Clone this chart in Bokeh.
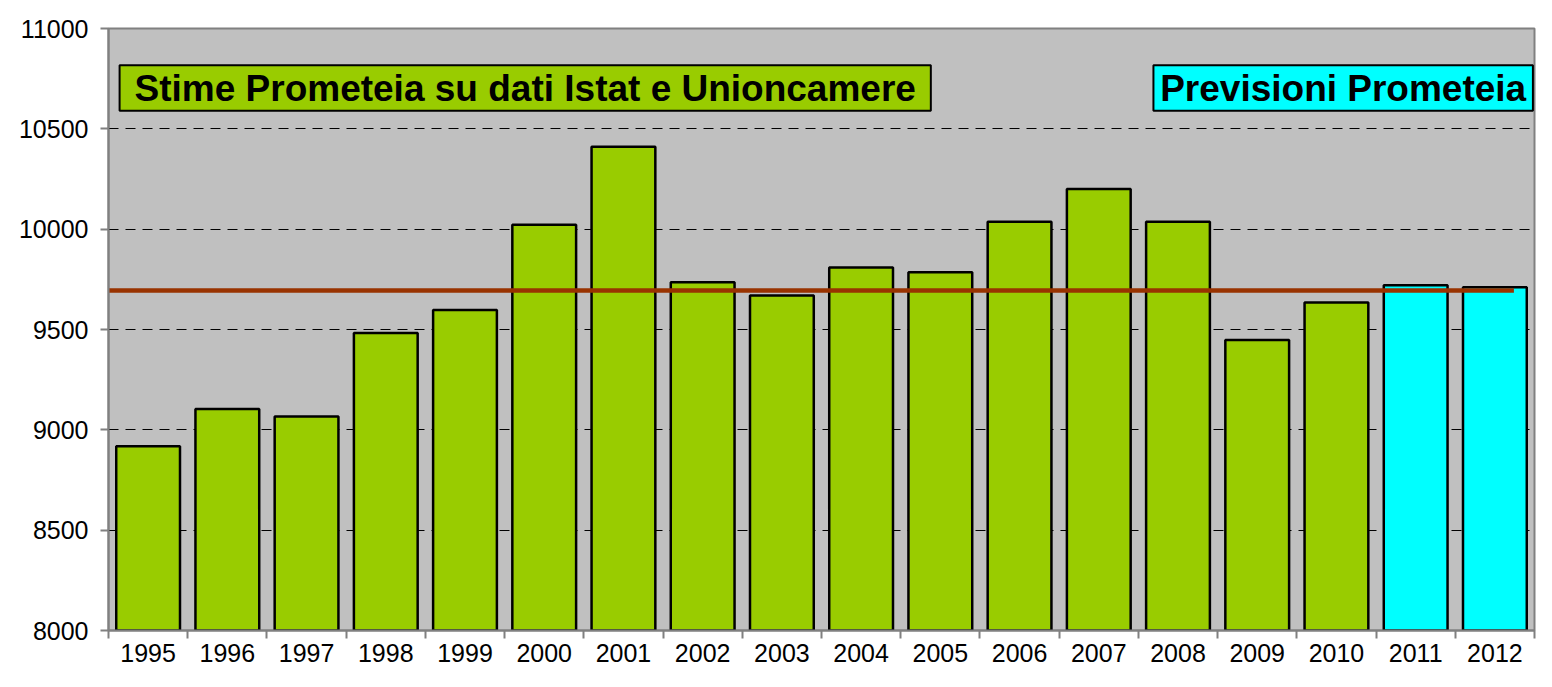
from bokeh.plotting import figure
from bokeh.models import Range1d, FixedTicker
from bokeh.core.properties import value
from bokeh.embed import file_html
from bokeh.resources import INLINE

# ---- data ----
years = ["1995", "1996", "1997", "1998", "1999", "2000", "2001", "2002", "2003",
         "2004", "2005", "2006", "2007", "2008", "2009", "2010", "2011", "2012"]
values = [8918, 9104, 9066, 9483, 9597, 10022, 10411, 9735, 9669,
          9809, 9785, 10037, 10200, 10037, 9448, 9635, 9720, 9710]
kind = ["stima"] * 16 + ["previsione"] * 2
mean_value = 9694
y_ticks = [8000, 8500, 9000, 9500, 10000, 10500, 11000]
label_stime = "Stime Prometeia su dati Istat e Unioncamere"
label_prev = "Previsioni Prometeia"

GREEN = "#99CC00"
CYAN = "#00FFFF"
FONT = "Liberation Sans"

n = len(years)
xs = [i + 0.5 for i in range(n)]
colors = [GREEN if k == "stima" else CYAN for k in kind]

p = figure(width=1536, height=671, output_backend="svg", toolbar_location=None,
           x_range=Range1d(0, n), y_range=Range1d(8000, 11000),
           min_border_left=108, min_border_right=2, min_border_top=28,
           min_border_bottom=41)
p.background_fill_color = "#C0C0C0"
p.border_fill_color = "white"
p.outline_line_color = "#808080"
p.outline_line_width = 2

# grid
p.xgrid.grid_line_color = None
p.ygrid.grid_line_color = "#000000"
p.ygrid.grid_line_dash = "10 7"
p.ygrid.grid_line_width = 1

# bars
p.vbar(x=xs, top=values, bottom=8000, width=0.805, fill_color=colors,
       line_color="black", line_width=2.5)

# mean line
p.line(x=[-0.05, n - 0.26], y=[mean_value, mean_value], line_color="#993300",
       line_width=4.5)

# annotation boxes
p.quad(left=[0.14, 13.19], right=[10.38, n - 0.02], top=[10817, 10817],
       bottom=[10590, 10590], fill_color=[GREEN, CYAN], line_color="black",
       line_width=2)
p.text(x=[(0.14 + 10.38) / 2, (13.19 + n - 0.02) / 2], y=[10703, 10703],
       text=[label_stime, label_prev], text_font=value(FONT),
       text_font_style="bold", text_font_size="37px", text_align="center",
       text_baseline="middle", text_color="black")

# x axis
xa = p.xaxis[0]
xa.ticker = FixedTicker(ticks=xs, minor_ticks=list(range(n + 1)))
xa.major_label_overrides = {x: y for x, y in zip(xs, years)}
xa.major_tick_line_color = None
xa.minor_tick_line_color = "#808080"
xa.minor_tick_line_width = 2
xa.minor_tick_out = 8
xa.minor_tick_in = 0
xa.axis_line_color = "#808080"
xa.axis_line_width = 2
xa.major_label_text_font = FONT
xa.major_label_text_font_size = "25px"
xa.major_label_text_color = "black"
xa.major_label_standoff = 5

# y axis
ya = p.yaxis[0]
ya.ticker = FixedTicker(ticks=y_ticks)
ya.major_tick_line_color = "#808080"
ya.major_tick_line_width = 2
ya.major_tick_out = 8
ya.major_tick_in = 0
ya.minor_tick_line_color = None
ya.axis_line_color = "#808080"
ya.axis_line_width = 2
ya.major_label_text_font = FONT
ya.major_label_text_font_size = "25px"
ya.major_label_text_color = "black"
ya.major_label_standoff = 12

open("out.html", "w").write(file_html(p, INLINE))
